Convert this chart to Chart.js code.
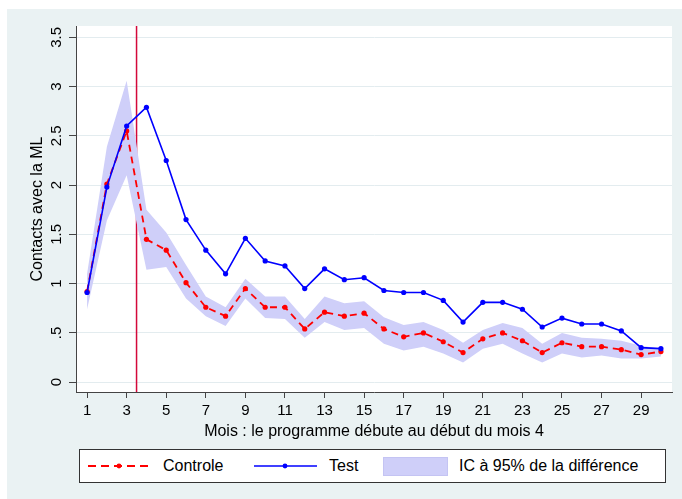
<!DOCTYPE html>
<html>
<head>
<meta charset="utf-8">
<script src="https://cdn.jsdelivr.net/npm/chart.js@4"></script>
<style>
  body { margin: 0; background: #fff; font-family: "Liberation Sans", Arial, sans-serif; }
  #fond { position: absolute; left: 7px; top: 9px; width: 675px; height: 490px; background: #eaf2f3; }
  #graphe { position: absolute; left: 0; top: 0; }
  #legende { position: absolute; left: 79px; top: 449px; width: 587px; height: 34px; box-sizing: border-box;
             border: 1px solid #333; background: #fff; color: #000; font-size: 16px; }
  #legende .el { position: absolute; top: 0; line-height: 32px; white-space: nowrap; }
  #legende svg { position: absolute; top: 11px; }
  #legende .boite { position: absolute; top: 7px; width: 65px; height: 19px; background: #cfcff9; box-sizing: border-box; border: 1px solid #c4c4f3; }
</style>
</head>
<body>
<div id="fond"></div>
<canvas id="graphe" width="682" height="499"></canvas>
<div id="legende">
  <svg style="left:8px" width="64" height="10"><line x1="0" y1="5" x2="64" y2="5" stroke="#ff0000" stroke-width="1.8" stroke-dasharray="8 5"/><circle cx="31" cy="5" r="2.4" fill="#ff0000"/></svg>
  <span class="el" style="left:83px">Controle</span>
  <svg style="left:174px" width="63" height="10"><line x1="0" y1="5" x2="63" y2="5" stroke="#0000ff" stroke-width="1.6"/><circle cx="31" cy="5" r="2.4" fill="#0000ff"/></svg>
  <span class="el" style="left:249px">Test</span>
  <div class="boite" style="left:303px"></div>
  <span class="el" style="left:379px">IC à 95% de la différence</span>
</div>
<script>
// Mois 1 à 30
const mois = [1, 2, 3, 4, 5, 6, 7, 8, 9, 10, 11, 12, 13, 14, 15, 16, 17, 18, 19, 20,
              21, 22, 23, 24, 25, 26, 27, 28, 29, 30];
const controle = [0.92, 2.01, 2.55, 1.45, 1.34, 1.01, 0.76, 0.67, 0.95, 0.76, 0.76, 0.54, 0.71, 0.67, 0.70,
                  0.54, 0.46, 0.50, 0.41, 0.30, 0.44, 0.50, 0.42, 0.30, 0.40, 0.36, 0.36, 0.33, 0.28, 0.31];
const test = [0.91, 1.98, 2.60, 2.79, 2.25, 1.65, 1.34, 1.10, 1.46, 1.23, 1.18, 0.95, 1.15, 1.04, 1.06,
              0.93, 0.91, 0.91, 0.83, 0.61, 0.81, 0.81, 0.74, 0.56, 0.65, 0.59, 0.59, 0.52, 0.35, 0.34];
// bornes de l'IC à 95%
const icHaut = [1.10, 2.39, 3.06, 1.75, 1.52, 1.19, 0.87, 0.76, 1.05, 0.87, 0.87, 0.64, 0.87, 0.80, 0.82,
                0.66, 0.58, 0.61, 0.53, 0.40, 0.53, 0.60, 0.55, 0.39, 0.50, 0.45, 0.44, 0.42, 0.37, 0.34];
const icBas = [0.74, 1.64, 2.10, 1.14, 1.17, 0.85, 0.67, 0.57, 0.85, 0.65, 0.64, 0.45, 0.61, 0.53, 0.55,
               0.39, 0.32, 0.36, 0.29, 0.20, 0.34, 0.39, 0.29, 0.20, 0.29, 0.25, 0.27, 0.24, 0.24, 0.26];
const debutProgramme = 3.5;
const xTicks = [1, 3, 5, 7, 9, 11, 13, 15, 17, 19, 21, 23, 25, 27, 29];
const yTicks = [0, 0.5, 1, 1.5, 2, 2.5, 3, 3.5];

const police = "'Liberation Sans', Arial, sans-serif";
const pts = arr => mois.map((m, i) => ({ x: m, y: arr[i] }));

// fond blanc de la zone de tracé
const fondZone = {
    id: 'fondZone',
    beforeDraw(chart) {
        const { ctx, chartArea: a } = chart;
        ctx.save();
        ctx.fillStyle = '#fff';
        ctx.fillRect(a.left, a.top, a.right - a.left, a.bottom - a.top);
        ctx.restore();
    }
};

// ligne verticale : début du programme
const ligneDebut = {
    id: 'ligneDebut',
    beforeDatasetsDraw(chart) {
        const { ctx, chartArea: a, scales } = chart;
        const x = scales.x.getPixelForValue(debutProgramme);
        ctx.save();
        ctx.strokeStyle = '#d4083a';
        ctx.lineWidth = 1.5;
        ctx.beginPath();
        ctx.moveTo(x, a.top);
        ctx.lineTo(x, a.bottom);
        ctx.stroke();
        ctx.restore();
    }
};

new Chart(document.getElementById('graphe'), {
    type: 'line',
    data: {
        datasets: [
            {
                label: 'Controle', data: pts(controle), order: 1,
                borderColor: '#ff0000', borderWidth: 1.8, borderDash: [7, 5],
                pointRadius: 2.6, pointBackgroundColor: '#ff0000', pointBorderWidth: 0, fill: false
            },
            {
                label: 'Test', data: pts(test), order: 0,
                borderColor: '#0000ff', borderWidth: 1.6,
                pointRadius: 2.6, pointBackgroundColor: '#0000ff', pointBorderWidth: 0, fill: false
            },
            {
                label: 'IC bas', data: pts(icBas), order: 3,
                borderWidth: 0, pointRadius: 0, fill: false
            },
            {
                label: 'IC haut', data: pts(icHaut), order: 2,
                borderWidth: 0, pointRadius: 0, fill: '-1', backgroundColor: '#cfcff9'
            }
        ]
    },
    options: {
        responsive: false,
        animation: false,
        layout: { padding: { left: 28, top: 26, right: 10, bottom: 58 } },
        plugins: { legend: { display: false }, tooltip: { enabled: false } },
        scales: {
            x: {
                type: 'linear', min: 0.44, max: 30.56,
                afterBuildTicks: s => { s.ticks = xTicks.map(v => ({ value: v })); },
                afterFit: s => { s.height = 49; },
                grid: { drawOnChartArea: false, tickLength: 6, tickColor: '#444', tickWidth: 1 },
                border: { color: '#444', width: 1 },
                ticks: { font: { family: police, size: 15 }, color: '#000', padding: 4, maxRotation: 0, autoSkip: false },
                title: { display: true, text: 'Mois : le programme débute au début du mois 4',
                         font: { family: police, size: 16 }, color: '#000', padding: 0 }
            },
            y: {
                type: 'linear', min: -0.1, max: 3.615,
                afterBuildTicks: s => { s.ticks = yTicks.map(v => ({ value: v })); },
                afterFit: s => { s.width = 48; },
                grid: { color: '#e3ecef', lineWidth: 1, tickLength: 7, tickColor: '#444' },
                border: { color: '#444', width: 1 },
                ticks: {
                    font: { family: police, size: 15 }, color: '#000', padding: 2,
                    minRotation: 90, maxRotation: 90, crossAlign: 'center',
                    callback: v => (v > 0 && v < 1) ? String(v).slice(1) : String(v)
                },
                title: { display: true, text: 'Contacts avec la ML',
                         font: { family: police, size: 16 }, color: '#000', padding: 0 }
            }
        }
    },
    plugins: [fondZone, ligneDebut]
});
</script>
</body>
</html>
